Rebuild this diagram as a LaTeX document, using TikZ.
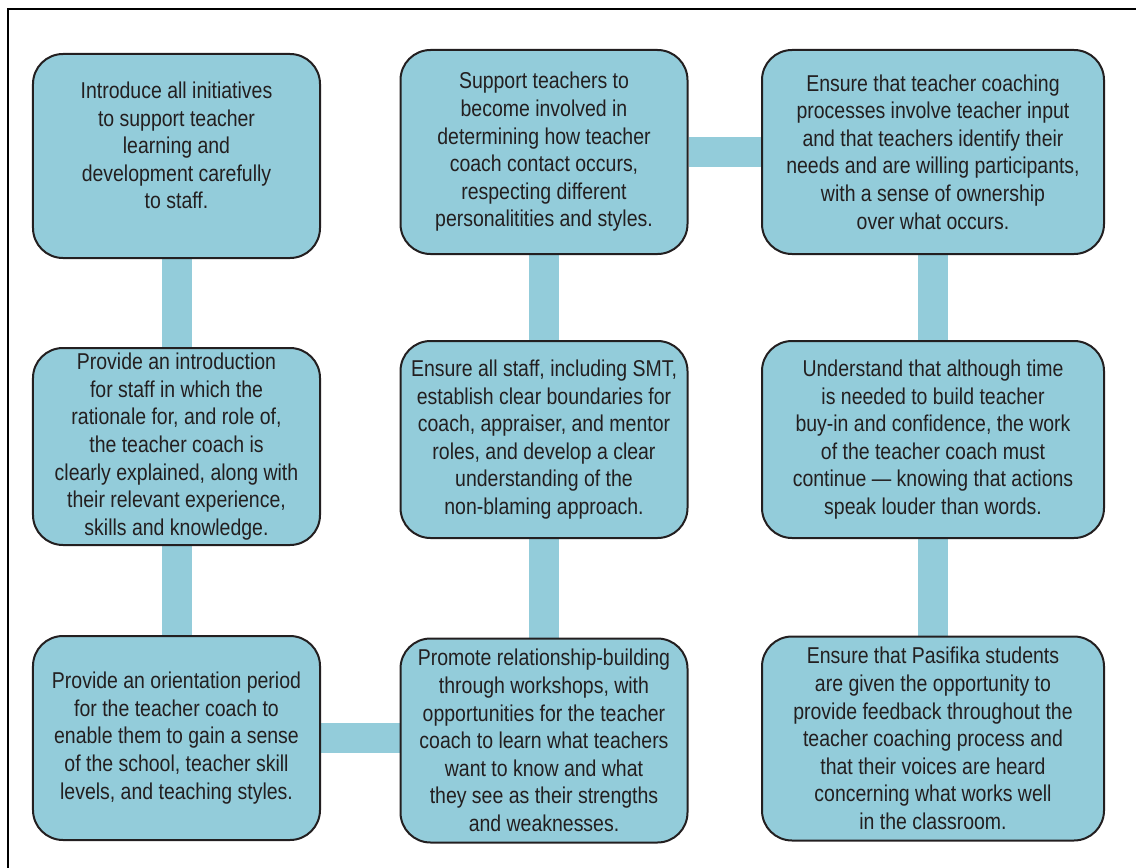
\documentclass[tikz,border=0pt]{standalone}
\usepackage{fontspec}
\setmainfont{Liberation Sans}[FakeStretch=0.85]
\usetikzlibrary{backgrounds}
\definecolor{boxblue}{RGB}{147,204,218}
\definecolor{inkgray}{RGB}{35,31,32}

\begin{document}
\begin{tikzpicture}[x=1bp,y=-1bp]
  \tikzstyle{every node}+=[inner sep=0pt]
  \tikzstyle{tipbox}=[draw=inkgray, line width=2bp, fill=boxblue, rounded corners=30bp,
    minimum width=287bp, minimum height=204bp, align=center, text=inkgray,
    font=\fontsize{23}{27.7}\selectfont]
  \tikzstyle{widebox}=[tipbox, minimum width=342bp]
  \tikzstyle{bar}=[boxblue, line width=30bp]
  \useasboundingbox (0,0) rectangle (1136,868);
  \draw [black, line width=2.5bp] (8,880) -- (8,9) -- (1150,9);
  \node [tipbox, text depth=21bp] (b1) at (176.5,156) {Introduce all initiatives\\to support teacher\\learning and\\development carefully\\to staff.};
  \node [tipbox] (b2) at (544,152) {Support teachers to\\become involved in\\determining how teacher\\coach contact occurs,\\respecting different\\personalitities and styles.};
  \node [widebox] (b3) at (933,152) {Ensure that teacher coaching\\processes involve teacher input\\and that teachers identify their\\needs and are willing participants,\\with a sense of ownership\\over what occurs.};
  \node [tipbox, minimum height=197bp] (b4) at (176.5,446.5) {Provide an introduction\\for staff in which the\\rationale for, and role of,\\the teacher coach is\\clearly explained, along with\\their relevant experience,\\skills and knowledge.};
  \node [tipbox, minimum height=197bp] (b5) at (544,439.5) {Ensure all staff, including SMT,\\establish clear boundaries for\\coach, appraiser, and mentor\\roles, and develop a clear\\understanding of the\\non-blaming approach.};
  \node [widebox, minimum height=197bp] (b6) at (933,439.5) {Understand that although time\\is needed to build teacher\\buy-in and confidence, the work\\of the teacher coach must\\continue --- knowing that actions\\speak louder than words.};
  \node [tipbox] (b7) at (176.5,738) {Provide an orientation period\\for the teacher coach to\\enable them to gain a sense\\of the school, teacher skill\\levels, and teaching styles.};
  \node [tipbox] (b8) at (544,740.5) {Promote relationship-building\\through workshops, with\\opportunities for the teacher\\coach to learn what teachers\\want to know and what\\they see as their strengths\\and weaknesses.};
  \node [widebox] (b9) at (933,738.5) {Ensure that Pasifika students\\are given the opportunity to\\provide feedback throughout the\\teacher coaching process and\\that their voices are heard\\concerning what works well\\in the classroom.};
  % connecting bars
  \begin{scope}[on background layer]
    \draw [bar] (b1) -- (b4);
    \draw [bar] (b4) -- (b7);
    \draw [bar] (b2) -- (b5);
    \draw [bar] (b5) -- (b8);
    \draw [bar] (b3) -- (b6);
    \draw [bar] (b6) -- (b9);
    \draw [bar] (b2) -- (b2 -| b3);
    \draw [bar] (b7) -- (b7 -| b8);
  \end{scope}
\end{tikzpicture}
\end{document}
